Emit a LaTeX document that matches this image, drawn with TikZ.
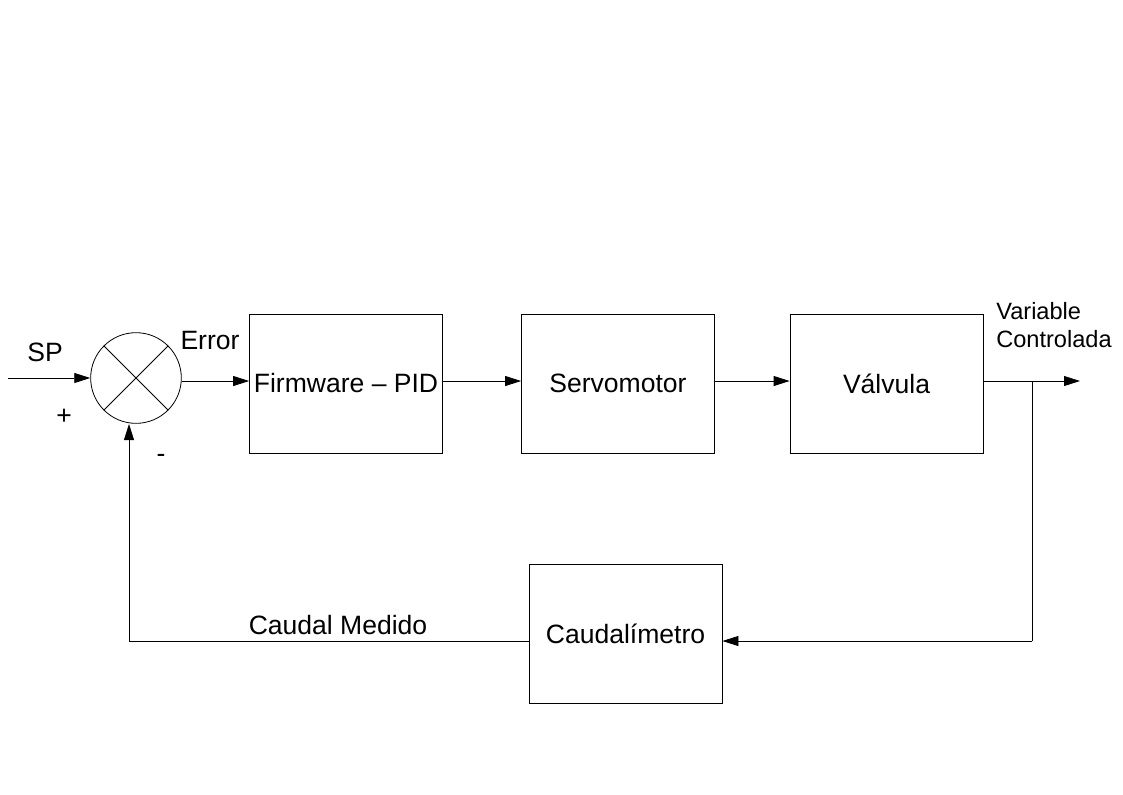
\documentclass[tikz,border=0pt]{standalone}
\usepackage{fontspec}
\setmainfont{Liberation Sans}
\usetikzlibrary{arrows.meta}
\begin{document}
\begin{tikzpicture}[x=0.75pt,y=-0.75pt,
  blk/.style={draw, line width=0.6pt, minimum width=144.75pt, minimum height=104.25pt, inner sep=0pt, font=\fontsize{19.9}{23}\selectfont},
  lbl/.style={inner sep=0pt, font=\fontsize{19.9}{23}\selectfont},
  sml/.style={inner sep=0pt, font=\fontsize{17.7}{20.5}\selectfont, align=left},
  conn/.style={line width=0.6pt},
  arr/.style={conn, -{Triangle[length=12pt,width=7.5pt]}}]
\useasboundingbox (0,0) rectangle (1123,794);
% summing junction
\node[draw, circle, line width=0.6pt, minimum size=68pt, inner sep=0pt] (sum) at (136,378) {};
\draw[conn] (sum.135) -- (sum.-45);
\draw[conn] (sum.45) -- (sum.-135);
% blocks
\node[blk] (pid) at (346,383.5) {Firmware -- PID};
\node[blk] (servo) at (618,383.5) {Servomotor};
\node[blk] (valv) at (886.5,383.5) {Válvula};
\node[blk] (caud) at (625.5,633.5) {Caudalímetro};
% coordinates
\coordinate (spin) at (8,378);
\coordinate (out) at (1080,381);
\coordinate (tap) at (1032,381);
\coordinate (tapd) at (1032,641);
\coordinate (fbl) at (129,641);
% connectors
\draw[arr] (spin) -- (sum.west);
\draw[arr] (sum.east |- 0,381) -- (pid.west |- 0,381);
\draw[arr] (pid.east |- 0,381) -- (servo.west |- 0,381);
\draw[arr] (servo.east |- 0,381) -- (valv.west |- 0,381);
\draw[arr] (valv.east |- 0,381) -- (out);
\draw[conn] (tap) -- (tapd);
\draw[arr] (tapd) -- (caud.east |- tapd);
\draw[conn] (caud.west |- fbl) -- (fbl);
\draw[arr] (fbl) -- (129,424);
% labels
\node[lbl] (sp) at (45,352) {SP};
\node[lbl] (plus) at (64,417) {+};
\node[lbl] (minus) at (161,458) {-};
\node[lbl] (err) at (210,340) {Error};
\node[lbl] (cm) at (338,625) {Caudal Medido};
\node[sml, anchor=north west] (vc) at (996,302.5) {Variable\\Controlada};
\end{tikzpicture}
\end{document}
